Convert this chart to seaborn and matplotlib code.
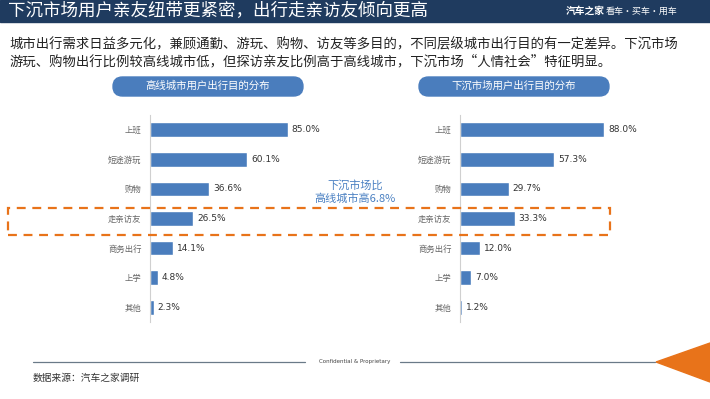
import matplotlib
matplotlib.use("Agg")
import matplotlib.pyplot as plt
from matplotlib.patches import Rectangle, FancyBboxPatch, Polygon
import pandas as pd
import seaborn as sns

# data
categories = ["上班", "短途游玩", "购物", "走亲访友", "商务出行", "上学", "其他"]
high_tier = [85.0, 60.1, 36.6, 26.5, 14.1, 4.8, 2.3]
low_tier = [88.0, 57.3, 29.7, 33.3, 12.0, 7.0, 1.2]
panel_titles = ["高线城市用户出行目的分布", "下沉市场用户出行目的分布"]
title = "下沉市场用户亲友纽带更紧密，出行走亲访友倾向更高"
body = ("城市出行需求日益多元化，兼顾通勤、游玩、购物、访友等多目的，不同层级城市出行目的有一定差异。下沉市场\n"
        "游玩、购物出行比例较高线城市低，但探访亲友比例高于高线城市，下沉市场“人情社会”特征明显。")
note = "下沉市场比\n高线城市高6.8%"
source = "数据来源：汽车之家调研"

sns.set_style("white")
plt.rcParams["font.family"] = ["Noto Sans CJK SC", "DejaVu Sans"]

BAR = "#4a7dbd"
NAVY = "#1f3b5f"
ORANGE = "#e8731a"

W, H = 710, 399
fig = plt.figure(figsize=(W / 100, H / 100), dpi=100)


def fx(px):
    return px / W


def fy(py):
    return 1 - py / H


# header bar
fig.patches.append(Rectangle((0, fy(22)), 1, 22 / H, transform=fig.transFigure,
                             color=NAVY, zorder=0))
fig.text(fx(8), fy(11.5), title, color="white", fontsize=12.6, va="center")
fig.text(fx(566), fy(11), "汽车之家", color="white", fontsize=7, va="center", fontweight="bold")
fig.text(fx(606), fy(11), "看车·买车·用车", color="white", fontsize=6.5, va="center")

fig.text(fx(9), fy(53), body, fontsize=9.6, va="center", color="#222222", linespacing=1.25)

df = pd.DataFrame({"cat": categories, "high": high_tier, "low": low_tier})

panels = [
    (150, 162, "high", 113, 303),
    (460, 164, "low", 419, 609),
]
for i, (x0, w, col, p0, p1) in enumerate(panels):
    ax = fig.add_axes([fx(x0), fy(322), fx(w), (322 - 115) / H])
    sns.barplot(data=df, x=col, y="cat", orient="h", color=BAR, width=0.5,
                saturation=1, ax=ax)
    ax.set_xlim(0, 100)
    ax.set_ylim(6.5, -0.5)
    ax.set_xlabel("")
    ax.set_ylabel("")
    ax.set_xticks([])
    for s in ["top", "right", "bottom"]:
        ax.spines[s].set_visible(False)
    ax.spines["left"].set_color("#d0d0d0")
    ax.spines["left"].set_linewidth(0.8)
    ax.tick_params(axis="y", length=0, labelsize=6, labelcolor="#666666", pad=6)
    ax.set_yticks(range(len(categories)), minor=False)
    ax.set_yticks([k + 0.5 for k in range(-1, len(categories))], minor=True)
    ax.tick_params(axis="y", which="minor", length=3, color="#d0d0d0", width=0.8)
    for k, v in enumerate(df[col]):
        ax.text(v + 2.5, k, f"{v:.1f}%", va="center", ha="left", fontsize=6.5,
                color="#333333", family=["DejaVu Sans"])
    ax.patch.set_alpha(0)
    # panel pill title (drawn in inches so the corners stay round)
    fig.patches.append(FancyBboxPatch((p0 / 100, (H - 96) / 100), (p1 - p0) / 100, 0.19,
                                      boxstyle="round,pad=0,rounding_size=0.095",
                                      transform=fig.dpi_scale_trans, color=BAR))
    fig.text(fx((p0 + p1) / 2), fy(86), panel_titles[i], color="white",
             fontsize=7.5, ha="center", va="center")

# dashed highlight box
fig.patches.append(Rectangle((fx(8), fy(235)), fx(602), 27 / H, transform=fig.transFigure,
                             fill=False, edgecolor=ORANGE, linestyle=(0, (4, 3)),
                             linewidth=1.6, zorder=5))
fig.text(fx(355), fy(192), note, color="#4a80c2", fontsize=8, ha="center", va="center",
         linespacing=1.2)

# footer
fig.add_artist(plt.Line2D([fx(33), fx(305)], [fy(362), fy(362)], color="#6a7a88", lw=0.9))
fig.add_artist(plt.Line2D([fx(400), fx(655)], [fy(362), fy(362)], color="#6a7a88", lw=0.9))
fig.text(fx(355), fy(362), "Confidential & Proprietary", fontsize=4, ha="center",
         va="center", color="#444444", family=["DejaVu Sans"])
fig.patches.append(Polygon([(fx(656), fy(362)), (1, fy(343)), (1, fy(382))], closed=True,
                           transform=fig.transFigure, color=ORANGE))
fig.text(fx(33), fy(378), source, fontsize=7, va="center", color="#333333")

fig.savefig("out.png", dpi=100)
